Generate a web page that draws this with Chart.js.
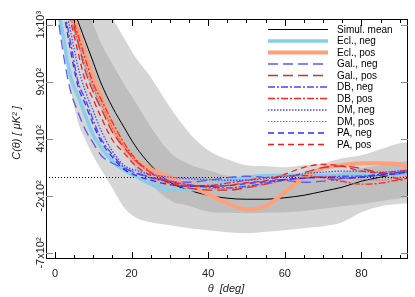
<!DOCTYPE html>
<html>
<head>
<meta charset="utf-8">
<script src="https://cdn.jsdelivr.net/npm/chart.js@4/dist/chart.umd.min.js"></script>
<style>
  html, body { margin: 0; padding: 0; background: #fff; }
  #wrap { width: 415px; height: 297px; }
</style>
</head>
<body>
<div id="wrap"><canvas id="chart" width="415" height="297"></canvas></div>
<script>
// angle grid (deg) shared by every curve
const THETA = [0, 2, 4, 6, 8, 10, 12, 15, 18, 21, 25, 30, 35, 40, 45, 50, 55, 60, 65, 70, 75, 80, 85, 90, 92];

// C(theta) in uK^2
const SIMUL_MEAN = [1113, 1078, 1041, 1006, 970, 934, 889, 678, 503, 323, 123, -56, -140, -193, -220, -229, -229, -216, -193, -151, -108, -45, -3, 39, 55];
const ECL_NEG = [1055, 985, 910, 775, 599, 432, 313, 165, 71, 7, -77, -140, -140, -98, -45, -3, 13, 18, 18, 18, 18, 18, 29, 29, 39];
const ECL_POS = [1110, 1078, 1034, 989, 947, 908, 775, 503, 323, 176, 81, -3, -87, -182, -264, -317, -290, -161, -3, 92, 123, 144, 144, 134, 102];
const GAL_NEG = [1052, 956, 827, 634, 476, 355, 228, 144, 92, 49, -3, -45, -56, -35, -8, 7, -8, -35, -56, -45, -19, 2, 18, 34, 50];
const GAL_POS = [1126, 1073, 1022, 970, 917, 810, 669, 459, 313, 173, 45, -66, -117, -138, -140, -114, -76, -27, 45, 98, 113, 88, 37, -27, -56];
const DB_NEG = [1110, 1040, 971, 901, 740, 564, 403, 234, 102, 42, -11, -51, -82, -106, -116, -98, -65, -29, -12, -1, 7, 8, 28, 49, 60];
const DB_POS = [1113, 1070, 1026, 982, 938, 883, 748, 547, 359, 190, 49, -51, -92, -90, -66, -35, -7, 9, 14, -10, -48, -76, -66, -28, -14];
const DM_NEG = [1119, 1054, 991, 926, 810, 643, 476, 270, 123, 71, 28, -3, -19, -28, -35, -35, -18, 4, 33, 50, 60, 60, 49, 63, 71];
const DM_POS = [1101, 1057, 1013, 970, 926, 846, 706, 497, 322, 166, 45, -35, -85, -117, -126, -108, -76, -38, -10, 6, -5, -25, -35, -4, 7];
const PA_NEG = [1108, 1033, 957, 862, 696, 525, 376, 207, 81, 18, -35, -82, -98, -98, -91, -70, -50, -29, -12, -5, -13, -3, 18, 39, 50];
const PA_POS = [1119, 1063, 1008, 952, 897, 743, 592, 388, 253, 120, 15, -66, -97, -98, -90, -61, -39, 27, 101, 132, 113, 61, 44, 61, 71];

// simulation spread (inner and outer grey bands)
const BAND1_HI = [1150, 1120, 1091, 1061, 1034, 1001, 968, 931, 880, 722, 503, 260, 134, 71, 13, -8, -24, -30, -10, 14, 49, 92, 123, 155, 171];
const BAND1_LO = [1101, 1054, 1008, 962, 916, 808, 666, 453, 267, 89, -77, -238, -288, -338, -348, -352, -347, -342, -331, -313, -290, -273, -246, -220, -211];
const BAND2_HI = [1189, 1164, 1141, 1117, 1094, 1071, 1047, 1012, 977, 943, 908, 678, 454, 281, 186, 123, 113, 102, 123, 144, 197, 228, 292, 355, 365];
const BAND2_LO = [1038, 968, 858, 547, 386, 218, 81, -119, -299, -387, -431, -457, -483, -501, -518, -527, -514, -501, -483, -466, -431, -343, -290, -268, -264];

const X_TICKS = [0, 20, 40, 60, 80];
const Y_TICK_VALUES = [-700, -200, 400, 900, 1000];
const Y_TICK_LABELS = ['-7x10²', '-2x10²', '4x10²', '9x10²', '1x10³'];

const SERIES = [
  { label: 'Simul. mean', data: SIMUL_MEAN, color: '#000000', width: 1, dash: [] },
  { label: 'Ecl., neg', data: ECL_NEG, color: '#87ceeb', width: 3.5, dash: [] },
  { label: 'Ecl., pos', data: ECL_POS, color: '#ffa07a', width: 4, dash: [] },
  { label: 'Gal., neg', data: GAL_NEG, color: '#5a5aff', width: 1.3, dash: [10, 5] },
  { label: 'Gal., pos', data: GAL_POS, color: '#c83232', width: 1.3, dash: [10, 5] },
  { label: 'DB, neg', data: DB_NEG, color: '#4646ff', width: 1.3, dash: [7, 2, 2, 2] },
  { label: 'DB, pos', data: DB_POS, color: '#ff2626', width: 1.3, dash: [7, 2, 2, 2] },
  { label: 'DM, neg', data: DM_NEG, color: '#4a4aff', width: 1.3, dash: [1.5, 1.5] },
  { label: 'DM, pos', data: DM_POS, color: '#ff4a4a', width: 1.1, dash: [1.5, 1.5] },
  { label: 'PA, neg', data: PA_NEG, color: '#2e2eff', width: 1.3, dash: [6, 4] },
  { label: 'PA, pos', data: PA_POS, color: '#ff1a1a', width: 1.3, dash: [6, 4] },
];

const FONT = '"Liberation Sans", Arial, Helvetica, sans-serif';

// the y axis is piecewise linear between its labelled ticks
function toPos(v) {
  const t = Y_TICK_VALUES;
  let i = 0;
  if (v >= t[t.length - 1]) i = t.length - 2;
  else if (v > t[0]) { while (v > t[i + 1]) i++; }
  return i + (v - t[i]) / (t[i + 1] - t[i]);
}

const pts = (arr) => THETA.map((t, i) => ({ x: t, y: toPos(arr[i]) }));

const lineSets = SERIES.slice().reverse().map(s => ({
  label: s.label,
  data: pts(s.data),
  borderColor: s.color,
  borderWidth: s.width,
  borderDash: s.dash,
  pointRadius: 0,
  fill: false,
  clip: 0,
  cubicInterpolationMode: 'monotone',
}));

const band = (arr, fill, color) => ({
  label: '',
  data: pts(arr),
  borderColor: 'rgba(0,0,0,0)',
  borderWidth: 1,
  backgroundColor: color,
  pointRadius: 0,
  fill,
  clip: 0,
  cubicInterpolationMode: 'monotone',
});

const datasets = [
  ...lineSets,
  band(BAND1_HI, '+1', '#bebebe'),
  band(BAND1_LO, false, '#bebebe'),
  band(BAND2_HI, '+1', '#d6d6d6'),
  band(BAND2_LO, false, '#d6d6d6'),
];
const ZERO_AFTER = lineSets.length; // draw zero line right after the inner band

const decor = {
  id: 'decor',
  afterDatasetDraw(chart, args) {
    if (args.index !== ZERO_AFTER) return;
    const { ctx, chartArea: a, scales: { y } } = chart;
    const py = Math.round(y.getPixelForValue(toPos(0))) + 0.5;
    ctx.save();
    ctx.strokeStyle = '#000';
    ctx.lineWidth = 1;
    ctx.setLineDash([1, 2]);
    ctx.beginPath();
    ctx.moveTo(a.left, py);
    ctx.lineTo(a.right, py);
    ctx.stroke();
    ctx.restore();
  },
  afterDraw(chart) {
    const { ctx, chartArea: a, scales: { x, y } } = chart;
    ctx.save();

    // frame
    ctx.strokeStyle = '#000';
    ctx.lineWidth = 1;
    ctx.strokeRect(a.left + 0.5, a.top + 0.5, a.right - a.left - 1, a.bottom - a.top - 1);

    // x ticks, inside, bottom and top
    ctx.beginPath();
    for (let t = 0; t <= 90; t += 5) {
      const px = Math.round(x.getPixelForValue(t)) + 0.5;
      const len = t % 20 === 0 ? 7 : 4;
      ctx.moveTo(px, a.bottom);
      ctx.lineTo(px, a.bottom - len);
      ctx.moveTo(px, a.top);
      ctx.lineTo(px, a.top + len);
    }
    ctx.stroke();

    // y ticks, grey, both sides
    ctx.strokeStyle = '#8c8c8c';
    ctx.beginPath();
    Y_TICK_VALUES.forEach(v => {
      const py = Math.round(y.getPixelForValue(toPos(v))) + 0.5;
      ctx.moveTo(a.left, py);
      ctx.lineTo(a.left + 7, py);
      ctx.moveTo(a.right, py);
      ctx.lineTo(a.right - 7, py);
    });
    ctx.stroke();

    // x tick labels
    ctx.fillStyle = '#222';
    ctx.font = `11px ${FONT}`;
    ctx.textAlign = 'center';
    ctx.textBaseline = 'alphabetic';
    X_TICKS.forEach(t => ctx.fillText(String(t), x.getPixelForValue(t), 277));

    // y tick labels, rotated
    Y_TICK_VALUES.forEach((v, i) => {
      ctx.save();
      ctx.translate(44, y.getPixelForValue(toPos(v)));
      ctx.rotate(-Math.PI / 2);
      ctx.fillText(Y_TICK_LABELS[i], 0, 0);
      ctx.restore();
    });

    // axis titles
    ctx.font = `italic 11px ${FONT}`;
    ctx.fillText('θ  [deg]', 226, 292);
    ctx.save();
    ctx.translate(20, 133);
    ctx.rotate(-Math.PI / 2);
    ctx.fillText('C(θ) [ μK² ]', 0, 0);
    ctx.restore();

    // legend inside the plot
    ctx.font = `10px ${FONT}`;
    ctx.textAlign = 'left';
    ctx.textBaseline = 'middle';
    SERIES.forEach((s, i) => {
      const ly = 29.5 + i * 11.5;
      ctx.strokeStyle = s.color;
      ctx.lineWidth = s.width;
      ctx.setLineDash(s.dash);
      ctx.beginPath();
      ctx.moveTo(268, ly);
      ctx.lineTo(328, ly);
      ctx.stroke();
      ctx.setLineDash([]);
      ctx.fillStyle = '#000';
      ctx.fillText(s.label, 337, ly + 0.5);
    });

    ctx.restore();
  },
};

new Chart(document.getElementById('chart'), {
  type: 'line',
  data: { datasets },
  options: {
    responsive: false,
    animation: false,
    devicePixelRatio: 1,
    layout: { padding: { left: 46, right: 7, top: 19, bottom: 38 } },
    scales: {
      x: { type: 'linear', min: -2.35, max: 92.17, display: false },
      y: { type: 'linear', min: -0.105, max: 4.1, display: false },
    },
    plugins: {
      legend: { display: false },
      tooltip: { enabled: false },
    },
  },
  plugins: [decor],
});
</script>
</body>
</html>
